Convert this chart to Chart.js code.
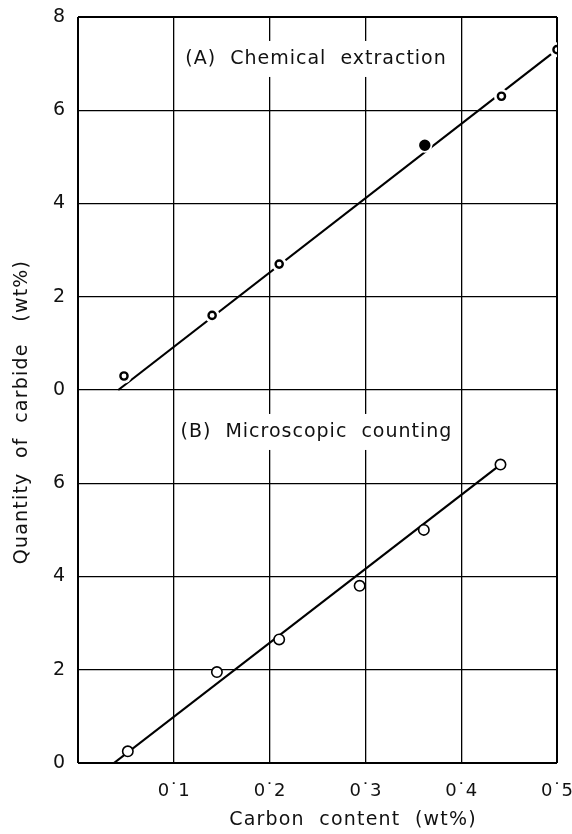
<!DOCTYPE html>
<html>
<head>
<meta charset="utf-8">
<script src="https://cdn.jsdelivr.net/npm/chart.js@4/dist/chart.umd.min.js"></script>
<style>
  html, body { margin: 0; padding: 0; background: #fff; }
  #wrap { width: 572px; height: 834px; position: relative; }
</style>
</head>
<body>
<div id="wrap"><canvas id="carbide"></canvas></div>
<script>
// carbon content (wt%) and carbide found (wt%), panel A = chemical extraction
const carbonA = [0.048, 0.14, 0.21, 0.362, 0.442, 0.5];
const carbideA = [0.3, 1.6, 2.7, 5.25, 6.3, 7.3];
// panel B = microscopic counting
const carbonB = [0.052, 0.145, 0.21, 0.294, 0.361, 0.441];
const carbideB = [0.25, 1.95, 2.65, 3.8, 5.0, 6.4];

// drawn straight lines through each set
const fitA_x = [0.042, 0.5];
const fitA_y = [0, 7.3];
const fitB_x = [0.0375, 0.441];
const fitB_y = [0, 6.4];

// both panels share one y scale, A sits 8 units above B
const panelOffsetA = 8;

const xTickLabels = ['', '0\u02D91', '0\u02D92', '0\u02D93', '0\u02D94', '0\u02D95'];
const yTickLabels = ['0', '2', '4', '6', '0', '2', '4', '6', '8'];

const panelCaptions = [
  { text: '(A)  Chemical  extraction', x: 0.112, y: 15.1 },
  { text: '(B)  Microscopic  counting', x: 0.107, y: 7.1 }
];

const FONT = '"DejaVu Sans", sans-serif';
const INK = '#111';

function toPoints(xs, ys, offset) {
  return xs.map((v, i) => ({ x: v, y: ys[i] + offset }));
}

const figureText = {
  id: 'figureText',
  beforeDatasetsDraw(chart) {
    const { ctx, scales: { x, y } } = chart;
    ctx.save();
    ctx.font = '19px ' + FONT;
    ctx.letterSpacing = '1px';
    ctx.textBaseline = 'middle';
    panelCaptions.forEach(c => {
      const px = x.getPixelForValue(c.x);
      const py = y.getPixelForValue(c.y);
      const w = ctx.measureText(c.text).width;
      // white box cuts the grid behind the caption
      ctx.fillStyle = '#fff';
      ctx.fillRect(px - 5, py - 18, w + 10, 36);
      ctx.fillStyle = INK;
      ctx.fillText(c.text, px, py);
    });
    ctx.restore();
  },
  afterDraw(chart) {
    const { ctx } = chart;
    ctx.save();
    ctx.font = '19px ' + FONT;
    ctx.letterSpacing = '1.2px';
    ctx.fillStyle = INK;
    ctx.textAlign = 'center';
    ctx.textBaseline = 'middle';
    ctx.fillText('Carbon  content  (wt%)', 353, 820);
    ctx.translate(22, 412);
    ctx.rotate(-Math.PI / 2);
    ctx.fillText('Quantity  of  carbide   (wt%)', 0, 0);
    ctx.restore();
  }
};

new Chart(document.getElementById('carbide'), {
  type: 'scatter',
  data: {
    datasets: [
      {
        label: 'A points',
        data: toPoints(carbonA, carbideA, panelOffsetA),
        pointStyle: 'circle',
        pointRadius: ctx => ctx.dataIndex === 3 ? 4.5 : 3.6,
        pointBorderWidth: 2.4,
        pointBackgroundColor: ctx => ctx.dataIndex === 3 ? '#000' : '#fff',
        pointBorderColor: '#000',
        order: 0
      },
      {
        // white ring so the line breaks around each A point
        label: 'A gaps',
        data: toPoints(carbonA, carbideA, panelOffsetA),
        pointRadius: 7.5,
        pointBorderWidth: 0,
        pointBackgroundColor: '#fff',
        pointBorderColor: '#fff',
        order: 1
      },
      {
        label: 'B points',
        data: toPoints(carbonB, carbideB, 0),
        pointStyle: 'circle',
        pointRadius: 5.2,
        pointBorderWidth: 1.6,
        pointBackgroundColor: '#fff',
        pointBorderColor: '#000',
        order: 0
      },
      {
        label: 'A line',
        data: toPoints(fitA_x, fitA_y, panelOffsetA),
        showLine: true,
        borderColor: '#000',
        borderWidth: 2.2,
        pointRadius: 0,
        order: 2
      },
      {
        label: 'B line',
        data: toPoints(fitB_x, fitB_y, 0),
        showLine: true,
        borderColor: '#000',
        borderWidth: 2.2,
        pointRadius: 0,
        order: 2
      }
    ]
  },
  options: {
    responsive: true,
    maintainAspectRatio: false,
    animation: false,
    layout: { padding: { left: 38, right: 15, top: 17, bottom: 0 } },
    plugins: {
      legend: { display: false },
      tooltip: { enabled: false }
    },
    scales: {
      x: {
        type: 'linear',
        min: 0,
        max: 0.5,
        afterFit(scale) {
          scale.height = 71;
          scale.paddingLeft = 0;
          scale.paddingRight = 0;
        },
        border: { display: false },
        grid: {
          color: '#000',
          lineWidth: ctx => (ctx.index === 0 || ctx.index === 5) ? 2 : 1.3,
          drawTicks: false
        },
        ticks: {
          stepSize: 0.1,
          padding: 18,
          color: INK,
          font: { family: FONT, size: 18 },
          maxRotation: 0,
          callback: v => xTickLabels[Math.round(v * 10)]
        }
      },
      y: {
        type: 'linear',
        min: 0,
        max: 16,
        afterFit(scale) {
          scale.width = 40;
          scale.paddingTop = 0;
          scale.paddingBottom = 0;
        },
        border: { display: false },
        grid: {
          color: '#000',
          lineWidth: ctx => (ctx.index === 0 || ctx.index === 8) ? 2 : 1.3,
          drawTicks: false
        },
        ticks: {
          stepSize: 2,
          padding: 13,
          color: INK,
          font: { family: FONT, size: 19 },
          callback: v => yTickLabels[Math.round(v / 2)]
        }
      }
    }
  },
  plugins: [figureText]
});
</script>
</body>
</html>
